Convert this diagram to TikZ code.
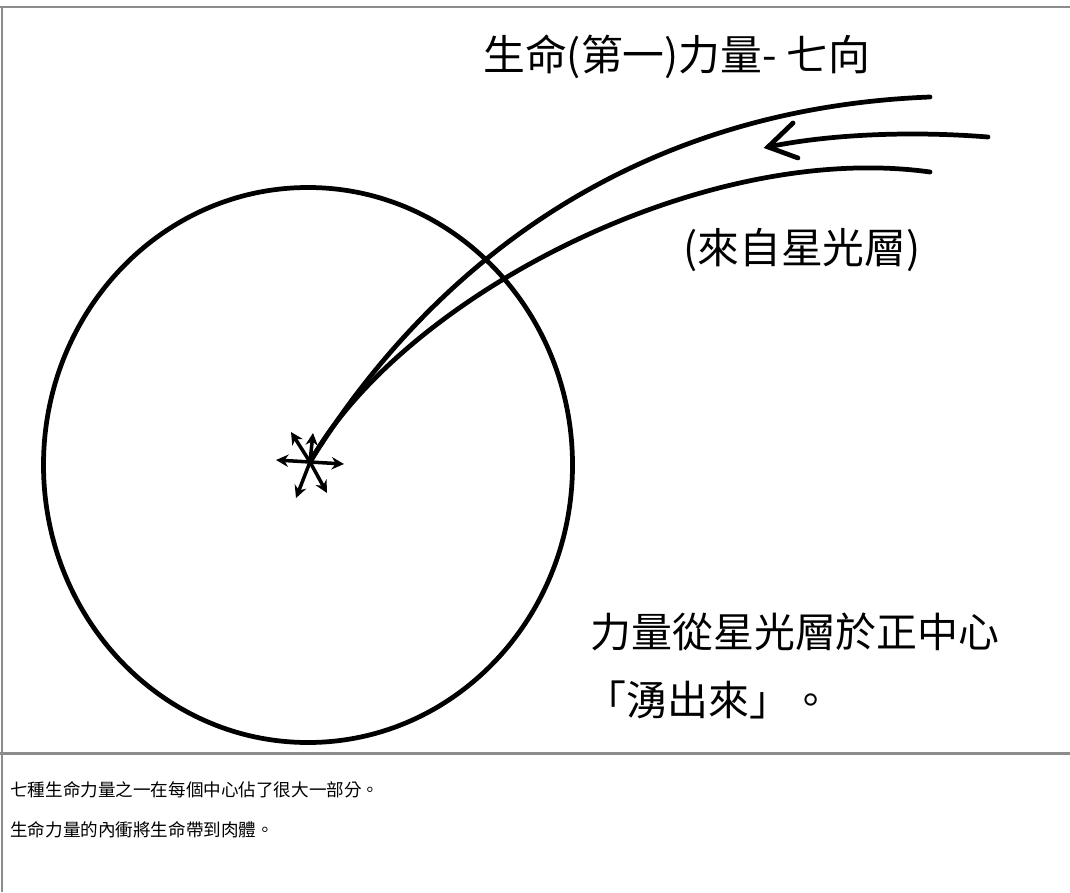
\documentclass[tikz,border=0pt]{standalone}
\usepackage{fontspec}
\newfontfamily\cjk{Noto Sans CJK TC}
\usetikzlibrary{arrows.meta}
\tikzset{
	ink/.style={line width=2.7pt, line cap=round, color=black},
	spark/.style={line width=2pt, -{Stealth[length=7pt,width=7pt]}},
	frame/.style={line width=1.7pt, color=black!45},
	bigtext/.style={anchor=west, inner sep=0pt, font=\cjk\fontsize{23.8}{28}\selectfont},
	hugetext/.style={anchor=west, inner sep=0pt, font=\cjk\fontsize{23.3}{28}\selectfont},
	smalltext/.style={anchor=west, inner sep=0pt, font=\cjk\fontsize{10}{13}\selectfont}
}

\begin{document}
\begin{tikzpicture}[x=0.02cm, y=-0.02cm]
			%%%%% START %%%%%
			\useasboundingbox (0, 0) rectangle (1070, 892);
			
			% frame of the two panels
			\draw[frame] (0, 7) -- (1070, 7);
			\draw[frame] (2, 7) -- (2, 892);
			\draw[frame] (0, 753) -- (1070, 753);
			
			% the centre
			\draw[ink] (308, 465) ellipse (264.5 and 277.5);
			\coordinate (star) at (310, 462);
			
			% force coming in from the astral layer
			\draw[ink] (star) .. controls (410, 300) and (600, 110) .. (930, 97);
			\draw[ink] (star) .. controls (400, 300) and (700, 140) .. (930, 172);
			
			\coordinate (tip) at (768, 147);
			\draw[ink] (988, 137) .. controls (900, 130) and (820, 136) .. (tip);
			\draw[ink] (793, 123) -- (tip) -- (798, 158);
			
			% seven directions
			\draw[spark] (star) -- (276, 460);
			\draw[spark] (star) -- (344, 464);
			\draw[spark] (star) -- (296, 498);
			\draw[spark] (star) -- (327, 493);
			\draw[spark] (star) -- (291, 432);
			\draw[spark] (star) -- (313, 433);
			
			\node[bigtext] (title) at (483, 57) {生命(第一)力量- 七向};
			\node[bigtext] (source) at (683, 250) {(來自星光層)};
			\node[hugetext] (flow1) at (590, 632) {力量從星光層於正中心};
			\node[hugetext] (flow2) at (585, 700) {「湧出來」。};
			
			\node[smalltext] (note1) at (10, 790) {七種生命力量之一在每個中心佔了很大一部分。};
			\node[smalltext] (note2) at (10, 830) {生命力量的內衝將生命帶到肉體。};
			
			%%%%% END %%%%%
\end{tikzpicture}
\end{document}
